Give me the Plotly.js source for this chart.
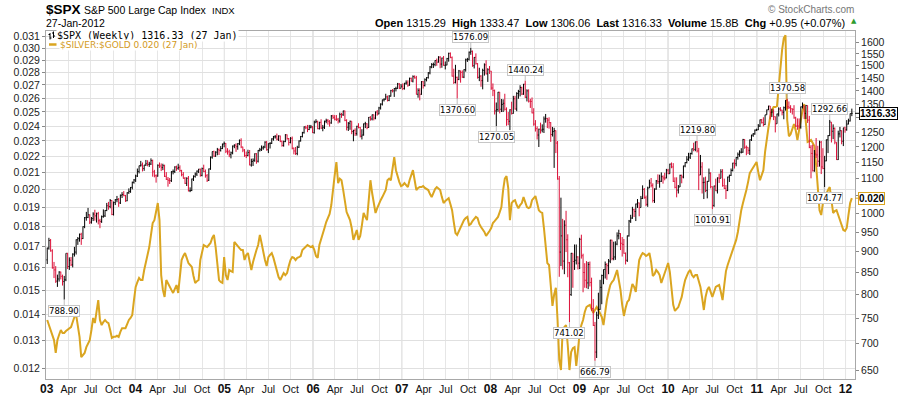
<!DOCTYPE html>
<html><head><meta charset="utf-8">
<script src="https://cdn.plot.ly/plotly-3.0.1.min.js"></script>
<style>html,body{margin:0;padding:0;background:#fff;overflow:hidden}#chart{width:900px;height:396px}</style>
</head><body><div id="chart"></div>
<script>
// ---- weekly $SPX OHLC (week 0 = week ending 2003-01-03) ----
const spxOpen = [
880,909,928,902,861,856,830,835,851,841,829,833,896,864,879,868,894,899,930,933,944,933,964,988,989,996,976,986,998,993,999,980,978,991,993,1008,1021,1019,1036,997,1030,1038,1039,1029,1051,1053,1050,1035,1058,1062,1074,1089,
1096,1108,1122,1140,1142,1131,1142,1146,1144,1145,1156,1121,1109,1108,1141,1139,1134,1140,1107,1098,1095,1094,1121,1122,1136,1132,1134,1125,1112,1101,1086,1101,1064,1065,1099,1107,1114,1123,1129,1110,1131,1122,1109,1095,1130,1167,1185,1170,1183,1191,1189,1195,1210,
1212,1186,1184,1175,1181,1203,1206,1201,1211,1222,1200,1190,1172,1172,1182,1142,1153,1157,1178,1154,1189,1191,1197,1200,1216,1191,1211,1212,1227,1234,1234,1226,1237,1219,1205,1218,1241,1228,1215,1229,1196,1187,1179,1199,1220,1235,1248,1268,1265,1259,1267,1268,
1248,1285,1287,1262,1284,1264,1267,1288,1290,1288,1282,1307,1302,1295,1295,1289,1312,1311,1325,1291,1267,1281,1288,1252,1256,1245,1270,1266,1236,1240,1279,1279,1266,1302,1296,1311,1299,1321,1314,1336,1350,1366,1368,1377,1364,1380,1401,1400,1409,1409,1427,1410,
1418,1409,1430,1431,1422,1449,1438,1456,1451,1387,1402,1387,1436,1421,1444,1452,1471,1495,1505,1505,1522,1515,1536,1507,1532,1502,1503,1530,1552,1534,1458,1433,1453,1445,1479,1473,1454,1484,1525,1527,1557,1561,1500,1535,1509,1453,1458,1440,1481,1504,1467,1484,
1478,1411,1401,1325,1330,1395,1331,1349,1353,1331,1294,1288,1329,1316,1370,1332,1390,1398,1413,1388,1426,1376,1400,1361,1360,1318,1278,1262,1240,1260,1257,1260,1296,1298,1292,1283,1242,1252,1255,1213,1099,899,940,877,968,930,873,800,896,876,879,887,
872,931,890,850,832,826,869,827,770,735,683,756,768,816,843,857,869,866,877,929,883,887,919,940,946,921,918,896,879,940,979,987,1010,1005,1026,1029,1016,1042,1068,1044,1025,1072,1087,1080,1036,1069,1093,1091,1092,1106,1102,1102,
1126,1115,1145,1136,1092,1074,1066,1075,1110,1105,1139,1150,1160,1167,1179,1194,1192,1217,1187,1111,1136,1088,1089,1065,1092,1117,1076,1022,1078,1064,1102,1101,1121,1079,1071,1065,1105,1110,1125,1148,1146,1166,1176,1183,1183,1225,1199,1199,1189,1224,1240,1244,
1257,1258,1271,1293,1283,1276,1311,1329,1343,1320,1321,1304,1279,1314,1332,1328,1320,1337,1364,1340,1338,1333,1331,1300,1271,1271,1268,1340,1344,1316,1345,1292,1199,1179,1124,1177,1174,1154,1216,1136,1131,1155,1224,1238,1285,1253,1263,1216,1159,1244,1255,1219,1265,
1258,1278,1289,1315.29];
const spxHigh = [
910,935,932,906,875,865,845,853,852,845,842,896,897,886,887,896,912,931,937,946,948,965,990,1004,1015,997,990,1003,1010,1002,1004,985,994,1011,1009,1029,1032,1040,1037,1033,1040,1049,1043,1053,1060,1063,1052,1060,1071,1075,1091,1099,
1112,1131,1140,1155,1150,1142,1158,1157,1152,1163,1159,1127,1113,1144,1150,1147,1146,1143,1120,1105,1102,1123,1128,1138,1140,1146,1141,1127,1120,1105,1104,1108,1074,1100,1110,1119,1125,1130,1131,1134,1143,1128,1114,1131,1169,1185,1188,1186,1197,1195,1203,1211,1218,
1213,1196,1191,1185,1205,1209,1212,1213,1225,1229,1201,1193,1185,1191,1190,1162,1163,1179,1180,1190,1197,1205,1204,1219,1220,1212,1216,1229,1237,1240,1245,1239,1238,1221,1221,1243,1242,1230,1233,1235,1198,1200,1204,1222,1237,1251,1270,1272,1275,1275,1275,1271,
1290,1295,1290,1286,1295,1275,1290,1297,1296,1292,1310,1311,1310,1310,1300,1319,1318,1326,1326,1295,1285,1290,1288,1258,1263,1272,1281,1268,1260,1280,1286,1281,1303,1306,1312,1312,1323,1328,1340,1353,1367,1372,1389,1382,1384,1404,1407,1411,1416,1431,1430,1427,
1429,1431,1441,1441,1452,1452,1461,1461,1459,1410,1410,1438,1438,1449,1454,1474,1499,1511,1513,1523,1530,1540,1540,1534,1541,1518,1533,1555,1556,1539,1488,1504,1456,1483,1480,1481,1486,1530,1533,1560,1576.09,1564,1536,1552,1511,1492,1462,1488,1510,1523,1490,1499,
1479,1429,1405,1356,1396,1396,1369,1368,1389,1338,1321,1331,1359,1381,1381,1395,1404,1422,1416,1427,1440.24,1406,1406,1370,1375,1335,1292,1270,1262,1283,1277,1305,1314,1300,1302,1285,1268,1265,1256,1220,1108,1044,985,981,1007,944,875,897,896,918,918,889,
935,943,895,872,877,875,876,838,790,742,763,804,833,845,857,876,872,882,930,930,925,926,949,956,947,937,932,898,941,982,996,1018,1013,1027,1040,1030,1049,1080,1072,1050,1076,1097,1102,1086,1071,1096,1113,1112,1119,1110,1118,1130,
1130,1146,1150,1148,1104,1104,1081,1112,1112,1140,1151,1170,1181,1181,1195,1214,1218,1219.80,1197,1174,1151,1104,1106,1093,1131,1119,1077,1079,1100,1104,1115,1129,1129,1100,1081,1106,1112,1131,1149,1160,1167,1182,1189,1196,1227,1226,1205,1199,1225,1241,1247,1259,
1262,1278,1294,1296,1302,1311,1330,1344,1343,1333,1331,1305,1315,1338,1339,1329,1341,1365,1370.58,1360,1346,1334,1346,1304,1298,1298,1341,1356,1344,1347,1345,1307,1206,1208,1190,1230,1204,1221,1220,1196,1171,1225,1240,1292.66,1285,1277,1266,1216,1255,1268,1256,1265,1269,
1292,1297,1315.5,1333.47];
const spxLow = [
870,905,900,859,837,826,817,829,834,820,788.90,830,858,856,865,862,888,893,917,925,917,932,960,980,987,971,972,979,980,975,970,960,974,988,990,1006,1010,1014,995,994,1023,1031,1018,1026,1043,1048,1032,1034,1055,1058,1068,1085,
1090,1105,1116,1137,1122,1124,1139,1138,1136,1142,1106,1104,1088,1106,1133,1123,1126,1105,1096,1076,1084,1090,1113,1117,1124,1127,1120,1107,1100,1084,1078,1062,1060,1063,1093,1103,1108,1117,1106,1107,1120,1103,1090,1093,1127,1162,1168,1168,1173,1174,1185,1193,1199,
1180,1175,1167,1163,1176,1196,1184,1191,1206,1196,1183,1168,1164,1170,1141,1137,1139,1152,1146,1150,1185,1187,1191,1196,1188,1180,1195,1210,1221,1228,1222,1220,1216,1201,1201,1216,1224,1205,1212,1192,1176,1174,1173,1197,1218,1232,1245,1260,1250,1257,1263,1247,
1245,1281,1260,1259,1261,1253,1261,1281,1276,1269,1279,1296,1291,1289,1280,1283,1300,1307,1288,1256,1254,1258,1243,1219,1237,1238,1263,1232,1225,1238,1264,1260,1265,1290,1291,1291,1295,1308,1313,1330,1345,1360,1367,1360,1361,1378,1394,1377,1398,1408,1407,1410,
1403,1405,1424,1416,1420,1436,1433,1448,1386,1374,1364,1385,1409,1417,1437,1448,1465,1490,1491,1498,1500,1513,1490,1492,1500,1485,1502,1517,1532,1456,1427,1429,1370.60,1442,1432,1451,1450,1476,1516,1522,1546,1496,1489,1505,1448,1438,1416,1406,1460,1465,1435,1467,
1404,1380,1312,1270.05,1322,1316,1321,1321,1326,1272,1274,1257,1312,1315,1330,1324,1370,1379,1384,1385,1373,1360,1356,1336,1316,1272,1252,1225,1200,1245,1249,1247,1283,1264,1262,1217,1235,1133,1180,1097,840,865,857,846,899,839,741.02,797,815,856,869,857,
858,883,805,815,814,812,818,765,734,666.79,672,748,767,779,823,836,833,846,872,879,879,880,916,931,904,888,895,869,875,938,974,985,990,979,1015,992,1016,1040,1041,1020,1018,1072,1074,1030,1029,1067,1084,1073,1090,1085,1095,1101,
1114,1115,1132,1090,1071,1045,1056,1075,1086,1101,1135,1147,1155,1161,1175,1186,1186,1182,1066,1111,1056,1040,1060,1042,1091,1071,1010.91,1018,1063,1056,1087,1101,1076,1069,1040,1063,1090,1108,1122,1131,1138,1159,1168,1179,1181,1194,1173,1177,1174,1220,1234,1241,
1254,1257,1268,1280,1270,1275,1311,1328,1295,1303,1292,1249,1279,1305,1324,1309,1295,1326,1331,1332,1318,1312,1297,1268,1258,1262,1262,1334,1296,1296,1282,1196,1101,1122,1121,1164,1136,1137,1114,1129,1074.77,1154,1180,1237,1215,1226,1209,1158,1158,1232,1209,1203,1248,
1255,1277,1287,1306.06];
const spxClose = [
909,928,902,861,856,830,835,851,841,829,833,896,864,879,868,894,899,930,933,944,933,964,988,989,996,976,986,998,993,999,980,978,991,993,1008,1021,1019,1036,997,1030,1038,1039,1029,1051,1053,1050,1035,1058,1062,1074,1089,1096,
1108,1122,1140,1142,1131,1142,1146,1144,1145,1156,1121,1109,1108,1141,1139,1134,1140,1107,1098,1095,1094,1121,1122,1136,1132,1134,1125,1112,1101,1086,1101,1064,1065,1099,1107,1114,1123,1129,1110,1131,1122,1109,1095,1130,1167,1185,1170,1183,1191,1189,1195,1210,1212,
1186,1184,1175,1181,1203,1206,1201,1211,1222,1200,1190,1172,1172,1182,1142,1153,1157,1178,1154,1189,1191,1197,1200,1216,1191,1211,1212,1227,1234,1234,1226,1237,1219,1205,1218,1241,1228,1215,1229,1196,1187,1179,1199,1220,1235,1248,1268,1265,1259,1267,1268,1248,
1285,1287,1262,1284,1264,1267,1288,1290,1288,1282,1307,1302,1295,1295,1289,1312,1311,1325,1291,1267,1281,1288,1252,1256,1245,1270,1266,1236,1240,1279,1279,1266,1302,1296,1311,1299,1321,1314,1336,1350,1366,1368,1377,1364,1380,1401,1400,1409,1409,1427,1410,1418,
1409,1430,1431,1422,1449,1438,1456,1451,1387,1402,1387,1436,1421,1444,1452,1471,1495,1505,1505,1522,1515,1536,1507,1532,1502,1503,1530,1552,1534,1458,1433,1453,1445,1479,1473,1454,1484,1525,1527,1557,1561,1500,1535,1509,1453,1458,1440,1481,1504,1467,1484,1478,
1411,1401,1325,1330,1395,1331,1349,1353,1331,1294,1288,1329,1316,1370,1332,1390,1398,1413,1388,1426,1376,1400,1361,1360,1318,1278,1262,1240,1260,1257,1260,1296,1298,1292,1283,1242,1252,1255,1213,1099,899,940,877,968,930,873,800,896,876,879,887,872,
931,890,850,832,826,869,827,770,735,683,756,768,816,843,857,869,866,877,929,883,887,919,940,946,921,918,896,879,940,979,987,1010,1005,1026,1029,1016,1042,1068,1044,1025,1072,1087,1080,1036,1069,1093,1091,1092,1106,1102,1102,1126,
1115,1145,1136,1092,1074,1066,1075,1110,1105,1139,1150,1160,1167,1179,1194,1192,1217,1187,1111,1136,1088,1089,1065,1092,1117,1076,1022,1078,1064,1102,1101,1121,1079,1071,1065,1105,1110,1125,1148,1146,1166,1176,1183,1183,1225,1199,1199,1189,1224,1240,1244,1257,
1258,1271,1293,1283,1276,1311,1329,1343,1320,1321,1304,1279,1314,1332,1328,1320,1337,1364,1340,1338,1333,1331,1300,1271,1271,1268,1340,1344,1316,1345,1292,1199,1179,1124,1177,1174,1154,1216,1136,1131,1155,1224,1238,1285,1253,1263,1216,1159,1244,1255,1219,1265,1258,
1278,1289,1315.38,1316.33];

// ---- weekly $SILVER:$GOLD ratio ----
const ratio = [
0.01377,0.01357,0.01338,0.0132,0.0130,0.01253,0.0130,0.0132,0.01338,0.01327,0.01327,0.01334,0.01338,0.01345,0.01349,0.01369,0.01389,0.01397,0.01353,0.01312,
0.01238,0.01245,0.01253,0.01274,0.01289,0.0130,0.01338,0.01385,0.01365,0.01417,0.01458,0.01377,0.01357,0.01369,0.01377,0.01369,0.01365,0.01338,0.01308,0.01312,
0.01312,0.01316,0.01312,0.01331,0.01345,0.01345,0.01345,0.01361,0.01377,0.01385,0.01397,0.01458,0.01514,0.01535,0.01553,0.01544,0.01544,0.01589,0.01621,0.01659,
0.01697,0.01757,0.01818,0.01833,0.01876,0.01925,0.01833,0.01566,0.01501,0.01471,0.01544,0.01527,0.01514,0.01501,0.01488,0.01510,0.01522,0.01488,0.01566,0.01635,
0.01654,0.01668,0.01645,0.01621,0.01612,0.01603,0.01562,0.01531,0.01539,0.01544,0.01635,0.01673,0.01707,0.01702,0.01697,0.01707,0.01717,0.01742,0.01757,0.01697,
0.01612,0.01544,0.01535,0.01531,0.01649,0.01566,0.01544,0.01589,0.01584,0.01580,0.01722,0.01712,0.01697,0.01692,0.01683,0.01683,0.01635,0.01659,0.01668,0.01626,
0.01589,0.01626,0.01659,0.01683,0.01707,0.01757,0.01717,0.01668,0.01635,0.01607,0.01649,0.01659,0.01668,0.01645,0.01612,0.01575,0.01557,0.01544,0.01562,0.01575,
0.01566,0.01575,0.01607,0.01635,0.01649,0.01645,0.01635,0.01645,0.01649,0.01654,0.01683,0.01692,0.01702,0.01707,0.01702,0.01697,0.01702,0.01683,0.01654,0.01645,
0.01707,0.01732,0.01767,0.01792,0.01823,0.01850,0.01866,0.01914,0.02010,0.02085,0.02165,0.02038,0.02064,0.02055,0.01998,0.01941,0.01876,0.01855,0.01833,0.01792,
0.01732,0.01757,0.01782,0.01732,0.01752,0.01807,0.01871,0.01850,0.01833,0.01941,0.02055,0.01981,0.01914,0.01871,0.01897,0.01925,0.01941,0.01958,0.01981,0.01998,
0.02055,0.02064,0.02055,0.02128,0.02196,0.02115,0.02073,0.02044,0.02021,0.02026,0.02038,0.02026,0.02015,0.02055,0.02091,0.02115,0.02055,0.01998,0.02010,0.02015,
0.02015,0.02021,0.02010,0.02004,0.01998,0.01975,0.01958,0.01981,0.02004,0.02015,0.02004,0.01998,0.01958,0.01925,0.01936,0.01947,0.01952,0.01920,0.01886,0.01823,
0.01767,0.01757,0.01777,0.01792,0.01813,0.01833,0.01844,0.01850,0.01807,0.01813,0.01828,0.01839,0.01850,0.01844,0.01813,0.01797,0.01787,0.01772,0.01752,0.01762,
0.01777,0.01792,0.01818,0.01828,0.01839,0.01850,0.01876,0.01903,0.01998,0.02064,0.02079,0.02010,0.01833,0.01925,0.01936,0.01941,0.01914,0.01897,0.01914,0.01925,
0.01958,0.01930,0.01903,0.01897,0.01903,0.01941,0.01952,0.01964,0.01925,0.01886,0.01876,0.01871,0.01792,0.01707,0.01621,0.01612,0.01522,0.01434,0.01481,0.01510,
0.01377,0.01228,0.01193,0.01338,0.01349,0.01357,0.01281,0.01193,0.01256,0.01270,0.01274,0.01207,0.01263,0.01327,0.01357,0.01377,0.01409,0.01429,0.01434,0.01438,
0.01421,0.01405,0.01417,0.01429,0.01417,0.01405,0.01389,0.01357,0.01409,0.01458,0.01492,0.01522,0.01535,0.01544,0.01566,0.01589,0.01544,0.01501,0.01438,0.01393,
0.01425,0.01450,0.01458,0.01492,0.01527,0.01514,0.01492,0.01566,0.01635,0.01654,0.01668,0.01663,0.01654,0.01659,0.01668,0.01626,0.01562,0.01570,0.01589,0.01580,
0.01566,0.01531,0.01553,0.01575,0.01598,0.01621,0.01580,0.01501,0.01438,0.01413,0.01421,0.01429,0.01450,0.01471,0.01510,0.01544,0.01562,0.01580,0.01589,0.01566,
0.01557,0.01566,0.01566,0.01544,0.01514,0.01467,0.01417,0.01471,0.01501,0.01514,0.01492,0.01471,0.01492,0.01514,0.01518,0.01522,0.01492,0.01458,0.01522,0.01584,
0.01612,0.01635,0.01649,0.01673,0.01697,0.01732,0.01772,0.01844,0.01886,0.01925,0.01958,0.01998,0.02044,0.02097,0.02115,0.02134,0.02152,0.02165,0.02103,0.02055,
0.02085,0.02115,0.02229,0.02325,0.02391,0.02462,0.02510,0.02534,0.02534,0.02541,0.02687,0.02818,0.02985,0.03088,0.03114,0.02442,0.02331,0.02345,0.02386,0.02414,
0.02372,0.02306,0.02372,0.02455,0.02510,0.02556,0.02442,0.02293,0.02299,0.02306,0.02286,0.02267,0.02146,0.02015,0.01886,0.01860,0.01925,0.01952,0.01981,0.01998,
0.02015,0.01941,0.01871,0.01881,0.01886,0.01860,0.01833,0.01807,0.01782,0.01777,0.01792,0.01860,0.01925,0.01952];

// ---- axis ticks / labels ----
const leftTicks = [0.012,0.013,0.014,0.015,0.016,0.017,0.018,0.019,0.020,0.021,0.022,0.023,0.024,0.025,0.026,0.027,0.028,0.029,0.030,0.031];
const rightTicks = [650,700,750,800,850,900,950,1000,1050,1100,1150,1200,1250,1300,1350,1400,1450,1500,1550,1600];
const rightHidden = [1050,1300]; // covered by the last-value tags in the original
const yearLabels = ['03','04','05','06','07','08','09','10','11','12'];
const monthLabels = ['Apr','Jul','Oct'];
// pivot annotations: week index and which extreme is labelled
const pivotWeeks = [10,249,241,264,281,307,322,382,391,435,460,457];
const pivotSide  = ['low','high','low','low','high','low','low','high','low','high','high','low'];
const volumeText = '15.8B';

// ---- build ----
const dates = spxClose.map((_, i) => new Date(Date.UTC(2003,0,3) + i*7*86400000).toISOString().slice(0,10));
const n = spxClose.length, last = n-1;

const W=900,H=396,L=46,R=45,T=31,B=17;
const pw=W-L-R, ph=H-T-B;
const px = x => (x-L)/pw, py = y => (H-B-y)/ph;

const xTickVals=[], xTickText=[], yearDates=[];
yearLabels.forEach((y,k)=>{
  const yr = 2000+Number(y);
  xTickVals.push(`${yr}-01-01`); xTickText.push(`<span style="font-size:12px"><b>${y}</b></span>`);
  yearDates.push(`${yr}-01-01`);
  if (k < yearLabels.length-1) monthLabels.forEach((m,j)=>{
    xTickVals.push(`${yr}-${String(4+3*j).padStart(2,'0')}-01`); xTickText.push(m);
  });
});

const red = '#dc1038', gold = '#daa520';
const traces = [
  {type:'scatter', mode:'lines', x:dates, y:ratio, yaxis:'y', line:{color:gold,width:2}, hoverinfo:'skip', showlegend:false},
  {type:'ohlc', x:dates, open:spxOpen, high:spxHigh, low:spxLow, close:spxClose, yaxis:'y2', tickwidth:0.45,
   increasing:{line:{color:'#000',width:1}}, decreasing:{line:{color:red,width:1}}, hoverinfo:'skip', showlegend:false}
];

const ann = [];
const sans = 'Liberation Sans, Arial, sans-serif';
function txt(x,y,text,opt){ ann.push(Object.assign({xref:'paper',yref:'paper',x:px(x),y:py(y),text,showarrow:false,xanchor:'left',yanchor:'middle',font:{family:sans,size:11,color:'#000'}},opt||{})); }
txt(44,9.5,'<b>$SPX</b>',{font:{family:sans,size:13.5,color:'#000'}});
txt(82,10,'S&P 500 Large Cap Index',{font:{family:sans,size:10.5,color:'#000'}});
txt(210,10.5,'INDX',{font:{family:sans,size:9.5,color:'#000'}});
txt(44,22.5,'27-Jan-2012',{font:{family:sans,size:10.5,color:'#000'}});
const chg = spxClose[last]-spxClose[last-1];
const pct = chg/spxClose[last-1]*100;
const sp = '\u00a0\u00a0';
txt(847,22.5,`<b>Open</b> ${spxOpen[last].toFixed(2)}${sp}<b>High</b> ${spxHigh[last].toFixed(2)}${sp}<b>Low</b> ${spxLow[last].toFixed(2)}${sp}<b>Last</b> ${spxClose[last].toFixed(2)}${sp}<b>Volume</b> ${volumeText}${sp}<b>Chg</b> +${chg.toFixed(2)} (+${pct.toFixed(2)}%)`,
  {xanchor:'right',font:{family:sans,size:11,color:'#000'}});
txt(848.5,21.5,'▲',{font:{family:'DejaVu Sans',size:7,color:'#2e9b2e'}});
txt(856,9.5,'© StockCharts.com',{xanchor:'right',font:{family:sans,size:10,color:'#777'}});
// in-plot legend
txt(56,35.8,`$SPX (Weekly) ${spxClose[last].toFixed(2)} (27 Jan)`,{font:{family:'DejaVu Sans Mono',size:10,color:'#000'},bgcolor:'#fff',borderpad:0});
txt(58.5,44.8,`$SILVER:$GOLD ${ratio[last].toFixed(3)} (27 Jan)`,{font:{family:'DejaVu Sans',size:9,color:'#d39a1c'},bgcolor:'#fff',borderpad:0});

// pivot labels
pivotWeeks.forEach((w,k)=>{
  const hi = pivotSide[k]==='high';
  const v = hi ? spxHigh[w] : spxLow[w];
  ann.push({xref:'x',yref:'y2',x:dates[w],y:Math.log10(v),text:v.toFixed(2),showarrow:true,arrowhead:0,arrowwidth:1,arrowcolor:'#bdbdbd',
    ax:0,ay:hi?-11:11,standoff:0,bgcolor:'#fff',bordercolor:'#c6c6c6',borderwidth:1,borderpad:0,
    font:{family:'DejaVu Sans',size:8.5,color:'#000'}});
});
// last value tags
ann.push({xref:'paper',yref:'y2',x:1,y:Math.log10(spxClose[last]),text:'<b>'+spxClose[last].toFixed(2)+'</b>',showarrow:true,arrowhead:0,arrowwidth:1,arrowcolor:'#000',
  ax:23,ay:0,standoff:0,bgcolor:'#fff',bordercolor:'#000',borderwidth:1,borderpad:0,font:{family:sans,size:10,color:'#000'}});
ann.push({xref:'paper',yref:'y',x:1,y:Math.log10(ratio[last]),text:'<b>'+ratio[last].toFixed(3)+'</b>',showarrow:true,arrowhead:0,arrowwidth:1,arrowcolor:gold,
  ax:16,ay:0,standoff:0,bgcolor:'#fff',bordercolor:gold,borderwidth:1,borderpad:0,font:{family:sans,size:10,color:'#000'}});

// shapes: darker year gridlines + legend glyphs
const shapes = yearDates.slice(1).map(d=>({type:'line',xref:'x',yref:'paper',x0:d,x1:d,y0:0,y1:1,layer:'below',line:{color:'#c4c4c4',width:1}}));
function seg(x0,y0,x1,y1,color,w){ shapes.push({type:'line',xref:'paper',yref:'paper',x0:px(x0),x1:px(x1),y0:py(y0),y1:py(y1),line:{color,width:w}}); }
seg(49,44.5,56.5,44.5,gold,2.5);
seg(50,33,50,39.5,'#000',1); seg(48.5,34.5,50,34.5,'#000',1); seg(50,38,51.5,38,'#000',1);
seg(53.5,31.5,53.5,38,'#000',1); seg(52,33,53.5,33,'#000',1); seg(53.5,36,55,36,'#000',1);

const layout = {
  width:W,height:H,margin:{l:L,r:R,t:T,b:B,pad:0},paper_bgcolor:'#fff',plot_bgcolor:'#fff',
  font:{family:sans,size:10.5,color:'#222'},showlegend:false,
  xaxis:{type:'date',range:['2002-12-29','2012-02-09'],tickvals:xTickVals,ticktext:xTickText,ticks:'',showgrid:true,gridcolor:'#e6e6e6',gridwidth:1,
    showline:true,mirror:true,linecolor:'#a8a8a8',linewidth:1,zeroline:false,rangeslider:{visible:false},tickangle:0,
    tickfont:{family:sans,size:10.5,color:'#111'},automargin:false,fixedrange:true},
  yaxis:{type:'log',range:[-1.9345,-1.5015],tickvals:leftTicks,ticktext:leftTicks.map(v=>v.toFixed(3)),ticks:'outside',ticklen:3,tickcolor:'#888',
    showgrid:true,gridcolor:'#e0e0e0',showline:true,mirror:true,linecolor:'#a8a8a8',linewidth:1,zeroline:false,
    tickfont:{family:sans,size:10.5,color:'#222'},automargin:false,fixedrange:true},
  yaxis2:{type:'log',overlaying:'y',side:'right',range:[2.8023,3.2176],tickvals:rightTicks,ticktext:rightTicks.map(v=>rightHidden.includes(v)?'':String(v)),ticks:'outside',ticklen:3,tickcolor:'#888',
    showgrid:false,showline:true,linecolor:'#a8a8a8',zeroline:false,tickfont:{family:sans,size:10.5,color:'#222'},automargin:false,fixedrange:true},
  annotations:ann, shapes:shapes
};
Plotly.newPlot('chart',traces,layout,{staticPlot:true,displayModeBar:false});
</script></body></html>
